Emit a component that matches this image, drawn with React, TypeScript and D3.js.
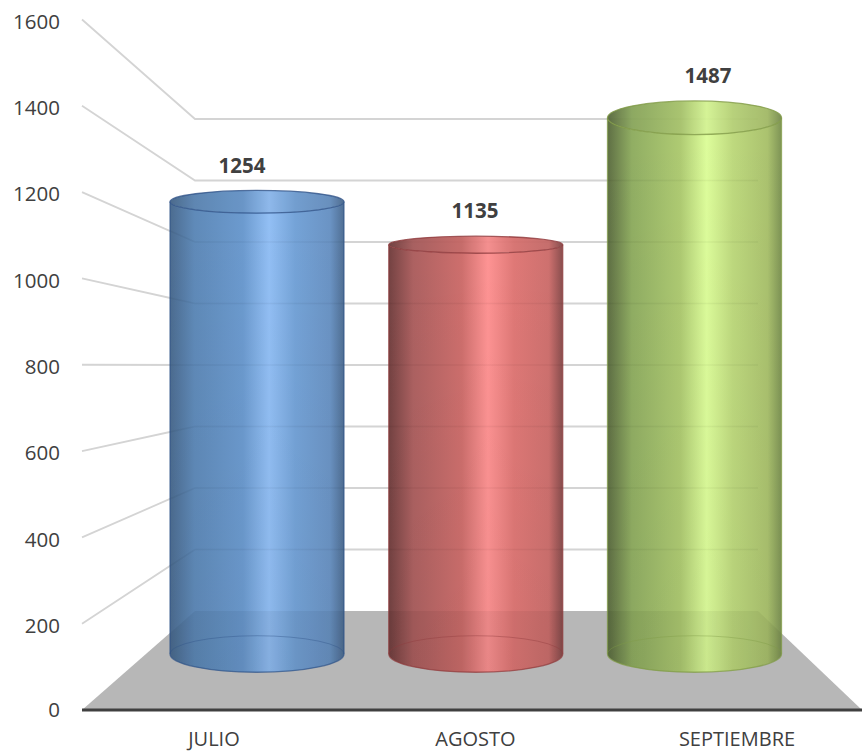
import React from "react";
import * as d3 from "d3";

const categories = ["JULIO", "AGOSTO", "SEPTIEMBRE"];
const values = [1254, 1135, 1487];
const tickValues = [0, 200, 400, 600, 800, 1000, 1200, 1400, 1600];
const gradients = [
  ["#46678c", "#5a86b6", "#6797cd", "#8fbdf4", "#70a0d6", "#6690c2", "#4a6a90"],
  ["#6f3c3c", "#aa5c5c", "#cc6a68", "#fe9090", "#de7472", "#cc6c6a", "#854848"],
  ["#596a3e", "#8dab5e", "#acc96e", "#dcfd98", "#bcd87a", "#a8c06a", "#7a9050"],
];
const strokes = ["#2f5288", "#8e3a3c", "#7f9a45"];
const gradientOffsets = [0, 0.14, 0.42, 0.57, 0.72, 0.92, 1];

const W = 862, H = 751;
const domain: [number, number] = [0, 1600];
const yFront = d3.scaleLinear().domain(domain).range([710, 19.5]);
const yBack = d3.scaleLinear().domain(domain).range([611, 119]);
const yCyl = d3.scaleLinear().domain(domain).range([654, 77]);
const xFront = d3.scaleLinear().domain([0, 1]).range([82, 862]);
const xBack = d3.scaleLinear().domain([0, 1]).range([195, 758]);
const xCenter = d3.scalePoint<string>().domain(categories).range([257, 694.5]);
const xLabel = d3.scalePoint<string>().domain(categories).range([214, 737]);
const xValue = d3.scalePoint<string>().domain(categories).range([242, 708]);
const RX = 87;
const ryAt = (y: number) => Math.abs(y - 375) * 0.0655;
const FONT = "'Open Sans', sans-serif";

export default function App() {
  const y0 = yCyl(0);
  const ry0 = ryAt(y0);
  const floorPts = [
    [xFront(0), yFront(0)], [xFront(1), yFront(0)],
    [xBack(1), yBack(0)], [xBack(0), yBack(0)],
  ].map((p) => p.join(",")).join(" ");
  const gridPts = (v: number) =>
    `${xFront(0)},${yFront(v)} ${xBack(0)},${yBack(v)} ${xBack(1)},${yBack(v)}`;
  return (
    <svg width={W} height={H} viewBox={`0 0 ${W} ${H}`}
      style={{ position: "absolute", left: 0, top: 0, background: "#fff" }}>
      <defs>
        {gradients.map((g, i) => (
          <linearGradient key={i} id={`g${i}`} x1="0" x2="1" y1="0" y2="0">
            {g.map((c, j) => <stop key={j} offset={gradientOffsets[j]} stopColor={c} />)}
          </linearGradient>
        ))}
        <linearGradient id="shade" x1="0" x2="0" y1="0" y2="1">
          <stop offset={0} stopColor="#000" stopOpacity={0} />
          <stop offset={1} stopColor="#000" stopOpacity={0.04} />
        </linearGradient>
      </defs>
      <polygon points={floorPts} fill="#b7b7b7" />
      {tickValues.slice(1).map((v) => (
        <polyline key={v} fill="none" stroke="#d4d4d4" strokeWidth={1.8} points={gridPts(v)} />
      ))}
      <line x1={xFront(0)} x2={xFront(1)} y1={yFront(0)} y2={yFront(0)} stroke="#404040" strokeWidth={3} />
      {tickValues.map((v) => (
        <text key={v} x={60} y={yFront(v) + (v === 0 ? 0 : 2)} dy="0.35em" textAnchor="end"
          fontFamily={FONT} fontSize={20.5} fill="#404040">{v}</text>
      ))}
      {categories.map((c, i) => {
        const cx = xCenter(c)!;
        const yT = yCyl(values[i]);
        const ryT = ryAt(yT);
        const L = cx - RX, R = cx + RX;
        const body = `M${L},${yT} L${L},${y0} A${RX},${ry0} 0 0 0 ${R},${y0} L${R},${yT} A${RX},${ryT} 0 0 1 ${L},${yT} Z`;
        const backArc = `M${L},${y0} A${RX},${ry0} 0 0 1 ${R},${y0}`;
        return (
          <g key={c}>
            <clipPath id={`clip${i}`}><path d={body} /></clipPath>
            <path d={body} fill={`url(#g${i})`} fillOpacity={0.97} />
            <path d={body} fill="url(#shade)" />
            <g clipPath={`url(#clip${i})`}>
              <polygon points={floorPts} fill="#000" fillOpacity={0.035} />
              {tickValues.slice(1).map((v) => (
                <polyline key={v} fill="none" stroke="#000" strokeOpacity={0.035} strokeWidth={1.6} points={gridPts(v)} />
              ))}
            </g>
            <path d={backArc} fill="none" stroke={strokes[i]} strokeOpacity={0.4} strokeWidth={1} />
            <path d={`M${L},${yT} L${L},${y0} A${RX},${ry0} 0 0 0 ${R},${y0} L${R},${yT}`} fill="none"
              stroke={strokes[i]} strokeWidth={1.3} strokeOpacity={0.7} />
            <ellipse cx={cx} cy={yT} rx={RX} ry={ryT} fill={`url(#g${i})`} fillOpacity={0.95} stroke="none" />
            <ellipse cx={cx} cy={yT} rx={RX} ry={ryT} fill="#000" fillOpacity={0.04}
              stroke={strokes[i]} strokeOpacity={0.8} strokeWidth={1.3} />
            <text x={xValue(c)} y={yT - ryT - 25} dy="0.35em" textAnchor="middle" fontFamily={FONT}
              fontSize={20.5} fontWeight={700} fill="#404040">{values[i]}</text>
            <text x={xLabel(c)} y={738.5} dy="0.35em" textAnchor="middle" fontFamily={FONT}
              fontSize={20} fill="#404040">{c}</text>
          </g>
        );
      })}
    </svg>
  );
}
